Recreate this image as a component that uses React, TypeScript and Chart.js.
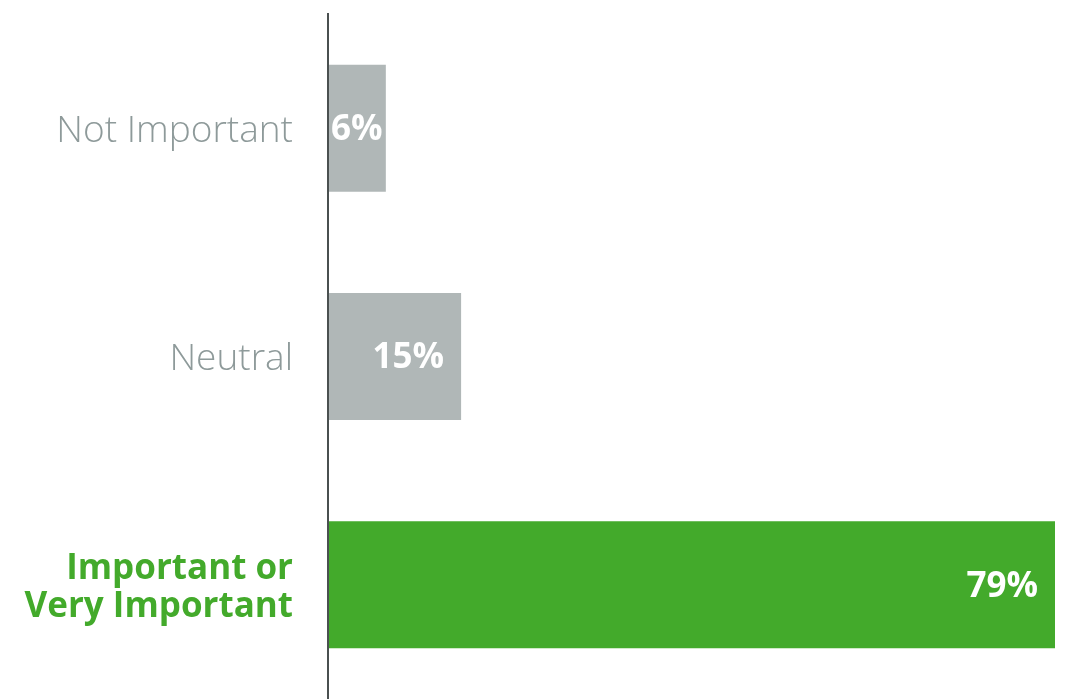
import React, { useEffect, useRef } from "react";
import { Chart, registerables } from "chart.js";

Chart.register(...registerables);

const categories: (string | string[])[] = [
  "Not Important",
  "Neutral",
  ["Important or", "Very Important"],
];
const values = [6.3, 14.5, 79.2];
const valueLabels = ["6%", "15%", "79%"];
const barColors = ["#b0b7b7", "#b0b7b7", "#43aa2b"];
const tickColors = ["#8e9a9a", "#8e9a9a", "#43aa2b"];
const FONT = "'Open Sans', Lato, sans-serif";

const valueLabelPlugin = {
  id: "valueLabels",
  afterDatasetsDraw(chart: any) {
    const ctx = chart.ctx;
    const meta = chart.getDatasetMeta(0);
    ctx.save();
    ctx.font = `bold 35px ${FONT}`;
    ctx.fillStyle = "#ffffff";
    ctx.textBaseline = "middle";
    ctx.textAlign = "left";
    meta.data.forEach((bar: any, i: number) => {
      const text = valueLabels[i];
      const w = ctx.measureText(text).width;
      const x = Math.max(bar.x - 17 - w, bar.base + 3);
      ctx.fillText(text, x, bar.y + 2);
    });
    ctx.restore();
  },
};

export default function App() {
  const ref = useRef<HTMLCanvasElement>(null);
  useEffect(() => {
    const chart = new Chart(ref.current!, {
      type: "bar",
      data: {
        labels: categories,
        datasets: [
          {
            data: values,
            backgroundColor: barColors,
            barPercentage: 0.556,
            categoryPercentage: 1,
          },
        ],
      },
      options: {
        indexAxis: "y",
        animation: false,
        responsive: true,
        maintainAspectRatio: false,
        layout: { padding: { top: 14, right: 13, bottom: -1, left: 0 } },
        plugins: { legend: { display: false }, tooltip: { enabled: false } },
        scales: {
          x: { display: false, min: 0, max: 79.2 },
          y: {
            afterFit: (scale: any) => {
              scale.width = 328;
              scale.paddingTop = 0;
              scale.paddingBottom = 0;
            },
            grid: { display: false, drawTicks: false },
            border: { display: true, color: "#4a5050", width: 2, z: 1 },
            ticks: {
              padding: 35,
              labelOffset: 3,
              color: (c: any) => tickColors[c.index],
              font: (c: any) =>
                c.index === 2
                  ? { family: FONT, size: 35, weight: "bold", lineHeight: 1.1 }
                  : { family: FONT, size: 37, weight: "300", lineHeight: 1.1 },
            },
          },
        },
      },
      plugins: [valueLabelPlugin],
    });
    return () => chart.destroy();
  }, []);
  return (
    <div style={{ position: "fixed", left: 0, top: 0, width: 1068, height: 699, background: "#fff" }}>
      <canvas ref={ref} />
    </div>
  );
}
